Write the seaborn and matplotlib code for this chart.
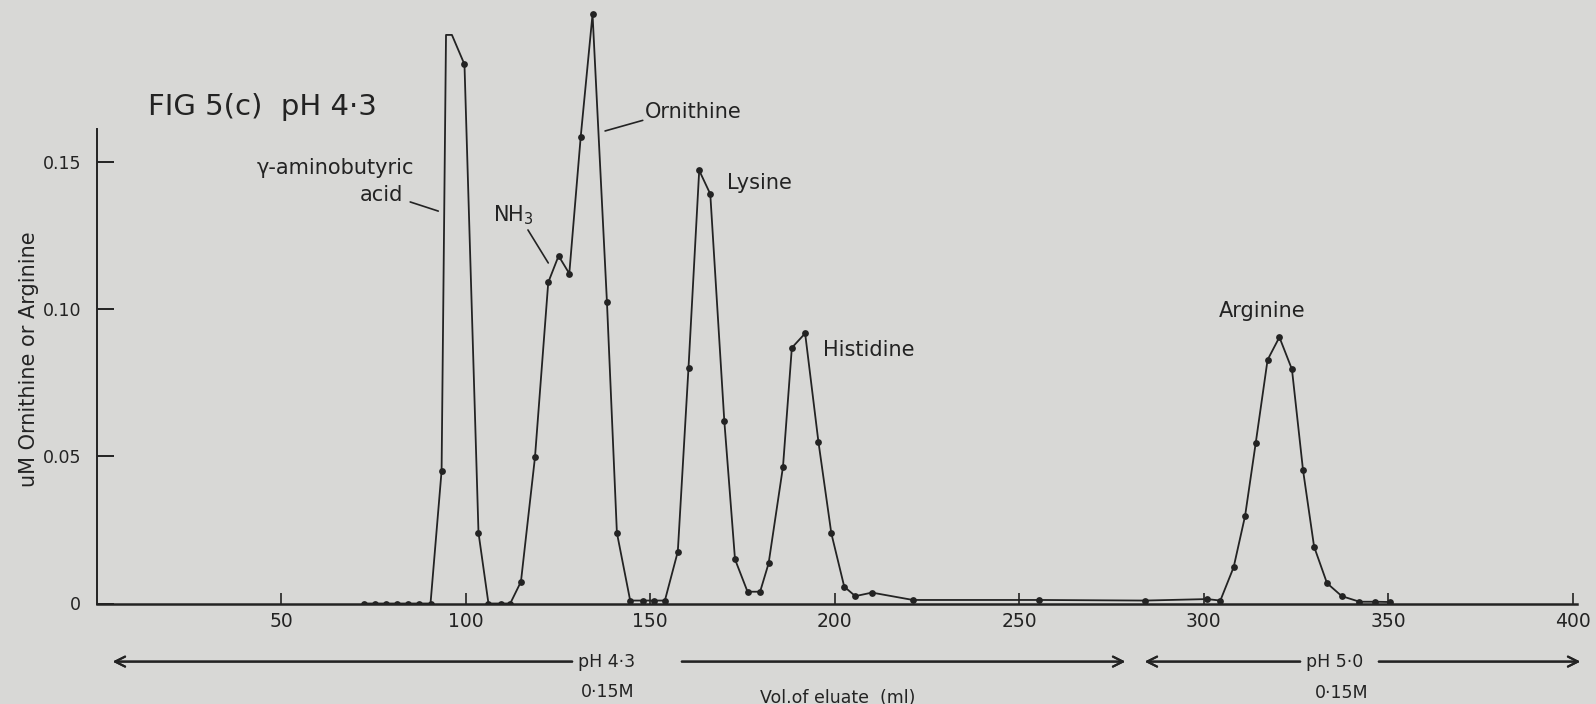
import pandas as pd
import matplotlib.pyplot as plt
import seaborn as sns

# volume de eluato (ml) e concentracao (uM)
vol = [72.5, 75.5, 78.5, 81.5, 84.5, 87.5, 90.5, 93.5, 94.7, 96.3, 99.7,
       103.5, 106.2, 109.5, 112.1, 115.0, 118.8, 122.4, 125.2, 128.1, 131.2,
       134.4, 138.3, 141.0, 144.6, 148.2, 151.0, 154.0, 157.5, 160.4, 163.3,
       166.3, 170.1, 173.0, 176.4, 179.8, 182.1, 186.0, 188.4, 192.0, 195.6,
       199.1, 202.6, 205.6, 210.1, 221.2, 255.4, 284.2, 300.9, 304.5, 308.1,
       311.2, 314.1, 317.3, 320.5, 323.9, 326.9, 329.9, 333.4, 337.4, 342.2,
       346.5, 350.5]
conc = [0.0, 0.0, 0.0, 0.0, 0.0, 0.0, 0.0, 0.045, 0.193, 0.193, 0.183,
        0.024, 0.0, 0.0, 0.0, 0.0074, 0.0496, 0.109, 0.118, 0.112, 0.1585,
        0.200, 0.1024, 0.024, 0.001, 0.001, 0.001, 0.001, 0.0176, 0.080, 0.147,
        0.139, 0.062, 0.015, 0.004, 0.004, 0.0136, 0.0464, 0.0868, 0.0917, 0.0549,
        0.0238, 0.0057, 0.0025, 0.0037, 0.0012, 0.0012, 0.001, 0.0015, 0.001, 0.0123,
        0.0297, 0.0546, 0.0827, 0.0904, 0.0795, 0.0453, 0.0193, 0.0069, 0.0025, 0.0006,
        0.0006, 0.0005]
# os dois cantos do topo do pico do GABA nao sao pontos medidos
medido = [True] * len(vol)
medido[8] = False
medido[9] = False

xticks = [50, 100, 150, 200, 250, 300, 350, 400]
yticks = [0, 0.05, 0.10, 0.15]
ytick_labels = ['0', '0.05', '0.10', '0.15']

df = pd.DataFrame({'vol': vol, 'conc': conc, 'medido': medido})

bg = '#d8d8d6'
ink = '#232323'

sns.set_style('ticks')
plt.rcParams['font.family'] = ['DejaVu Sans']

fig = plt.figure(figsize=(15.96, 7.04), dpi=100, facecolor=bg)
ax = fig.add_axes([96.5 / 1596, 1 - 603.5 / 704, 1480 / 1596, 598.5 / 704])
ax.set_facecolor(bg)

sns.lineplot(data=df, x='vol', y='conc', sort=False, estimator=None,
             color=ink, linewidth=1.3, ax=ax)
sns.scatterplot(data=df[df['medido']], x='vol', y='conc', color=ink,
                s=24, edgecolor=ink, linewidth=0, ax=ax, zorder=3)

ax.set_xlim(0, 401)
ax.set_ylim(0, 598.5 / 2946)

for s in ['top', 'right']:
    ax.spines[s].set_visible(False)
ax.spines['left'].set_bounds(0, 0.161)
ax.spines['left'].set_color(ink)
ax.spines['bottom'].set_color(ink)
ax.spines['left'].set_linewidth(1.4)
ax.spines['bottom'].set_linewidth(1.8)

ax.set_xticks(xticks)
ax.set_xticklabels([str(t) for t in xticks])
ax.set_yticks(yticks)
ax.set_yticklabels(ytick_labels)
ax.tick_params(axis='x', direction='in', length=8, width=1.2, color=ink,
               labelsize=13.5, labelcolor=ink, pad=6)
ax.tick_params(axis='y', direction='in', length=12, width=1.4, color=ink,
               labelsize=12.5, labelcolor=ink, pad=11)
ax.set_xlabel('')
ax.set_ylabel('')

# rotulos dos picos
lab = dict(color=ink, fontsize=15, va='center')
ax.text(43.4, 0.1478, 'γ-aminobutyric', ha='left', **lab)
ax.text(83.1, 0.1387, 'acid', ha='right', **lab)
ax.plot([85.0, 92.6], [0.1363, 0.1332], color=ink, lw=1.2)
ax.text(107.5, 0.1319, r'NH$_3$', ha='left', **lab)
ax.plot([116.9, 122.4], [0.1268, 0.1156], color=ink, lw=1.2)
ax.text(148.6, 0.1668, 'Ornithine', ha='left', **lab)
ax.plot([137.8, 148.0], [0.1604, 0.1640], color=ink, lw=1.2)
ax.text(170.9, 0.1427, 'Lysine', ha='left', **lab)
ax.text(196.9, 0.0860, 'Histidine', ha='left', **lab)
ax.text(304.2, 0.0993, 'Arginine', ha='left', **lab)

fig.text(148 / 1596, 1 - 107 / 704, 'FIG 5(c)  pH 4·3', fontsize=21,
         color=ink, ha='left', va='center')
fig.text(29 / 1596, 1 - 359 / 704, 'uM Ornithine or Arginine', rotation=90,
         fontsize=15, color=ink, ha='center', va='center')

# faixas de tampao abaixo do eixo
yb = 1 - 661.6 / 704
arr = dict(arrowstyle='->', color=ink, lw=1.5, mutation_scale=18)
fig.text(607 / 1596, yb, 'pH 4·3', fontsize=12.5, color=ink, ha='center', va='center')
fig.text(608 / 1596, 1 - 692 / 704, '0·15M', fontsize=12.5, color=ink, ha='center', va='center')
fig.text(1335 / 1596, yb, 'pH 5·0', fontsize=12.5, color=ink, ha='center', va='center')
fig.text(1342 / 1596, 1 - 693 / 704, '0·15M', fontsize=12.5, color=ink, ha='center', va='center')
fig.text(838 / 1596, 1 - 698 / 704, 'Vol.of eluate  (ml)', fontsize=12.5, color=ink,
         ha='center', va='center')
fig.add_artist(plt.annotate('', xy=(110 / 1596, yb), xytext=(575 / 1596, yb),
                            xycoords='figure fraction', arrowprops=arr))
fig.add_artist(plt.annotate('', xy=(1128 / 1596, yb), xytext=(679 / 1596, yb),
                            xycoords='figure fraction', arrowprops=arr))
fig.add_artist(plt.annotate('', xy=(1142 / 1596, yb), xytext=(1303 / 1596, yb),
                            xycoords='figure fraction', arrowprops=arr))
fig.add_artist(plt.annotate('', xy=(1583 / 1596, yb), xytext=(1376 / 1596, yb),
                            xycoords='figure fraction', arrowprops=arr))

fig.savefig('out.png', dpi=100, facecolor=bg)
